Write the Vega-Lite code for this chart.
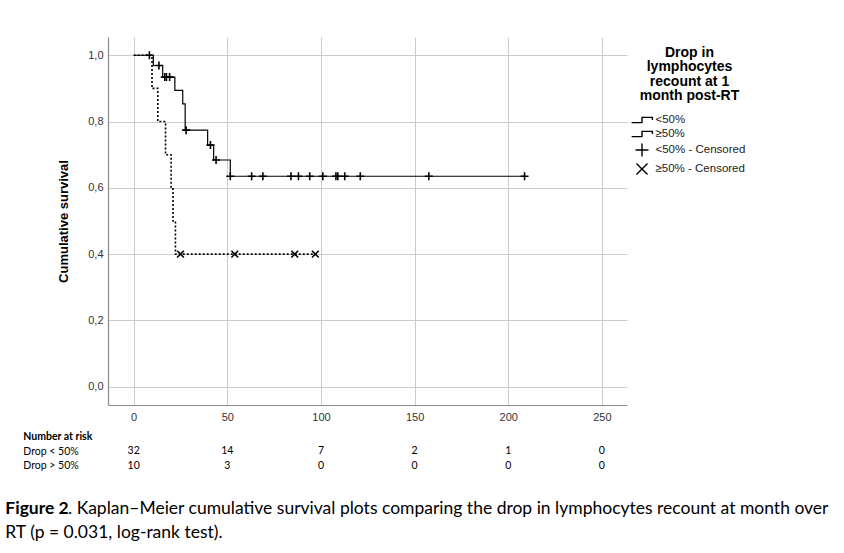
{
  "$schema": "https://vega.github.io/schema/vega-lite/v6.json",
  "padding": {"left": 5, "top": 37, "right": 5, "bottom": 5},
  "config": {
    "font": "Liberation Sans",
    "view": {"stroke": null}
  },
  "title": {
    "text": "Figure 2",
    "subtitle": ["\u200b\u00a0\u00a0\u00a0\u00a0\u00a0\u00a0\u00a0\u00a0\u00a0\u00a0\u00a0\u00a0\u00a0\u00a0. Kaplan–Meier cumulative survival plots comparing the drop in lymphocytes recount at month over", "RT (p = 0.031, log-rank test)."],
    "orient": "bottom",
    "anchor": "start",
    "frame": "bounds",
    "dx": -17.5,
    "offset": 27,
    "font": "Lato",
    "fontSize": 17.5,
    "fontWeight": "bold",
    "color": "#000000",
    "subtitleFont": "Lato",
    "subtitleFontSize": 17.5,
    "subtitleFontWeight": "normal",
    "subtitleColor": "#000000",
    "subtitleLineHeight": 24,
    "subtitlePadding": -17.5
  },
  "datasets": {
    "curves": [
      {"group": "<50%", "time": 0, "survival": 1.0},
      {"group": "<50%", "time": 10.5, "survival": 0.969},
      {"group": "<50%", "time": 15.5, "survival": 0.934},
      {"group": "<50%", "time": 22, "survival": 0.894},
      {"group": "<50%", "time": 26.2, "survival": 0.853},
      {"group": "<50%", "time": 27.5, "survival": 0.774},
      {"group": "<50%", "time": 39.5, "survival": 0.729},
      {"group": "<50%", "time": 42.7, "survival": 0.684},
      {"group": "<50%", "time": 51.6, "survival": 0.635},
      {"group": "<50%", "time": 208.7, "survival": 0.635},
      {"group": "≥50%", "time": 0, "survival": 1.0},
      {"group": "≥50%", "time": 9.8, "survival": 0.9},
      {"group": "≥50%", "time": 12.9, "survival": 0.8},
      {"group": "≥50%", "time": 17, "survival": 0.7},
      {"group": "≥50%", "time": 20, "survival": 0.6},
      {"group": "≥50%", "time": 21, "survival": 0.5},
      {"group": "≥50%", "time": 22.3, "survival": 0.4},
      {"group": "≥50%", "time": 97, "survival": 0.4}
    ],
    "censored": [
      {"legend": "<50% - Censored", "time": 8.4, "survival": 1.0},
      {"legend": "<50% - Censored", "time": 13.5, "survival": 0.969},
      {"legend": "<50% - Censored", "time": 16.6, "survival": 0.934},
      {"legend": "<50% - Censored", "time": 17.5, "survival": 0.934},
      {"legend": "<50% - Censored", "time": 19.2, "survival": 0.934},
      {"legend": "<50% - Censored", "time": 28, "survival": 0.774},
      {"legend": "<50% - Censored", "time": 41, "survival": 0.729},
      {"legend": "<50% - Censored", "time": 44, "survival": 0.684},
      {"legend": "<50% - Censored", "time": 51.6, "survival": 0.635},
      {"legend": "<50% - Censored", "time": 63, "survival": 0.635},
      {"legend": "<50% - Censored", "time": 69, "survival": 0.635},
      {"legend": "<50% - Censored", "time": 84, "survival": 0.635},
      {"legend": "<50% - Censored", "time": 88, "survival": 0.635},
      {"legend": "<50% - Censored", "time": 94, "survival": 0.635},
      {"legend": "<50% - Censored", "time": 101, "survival": 0.635},
      {"legend": "<50% - Censored", "time": 108, "survival": 0.635},
      {"legend": "<50% - Censored", "time": 109, "survival": 0.635},
      {"legend": "<50% - Censored", "time": 112.7, "survival": 0.635},
      {"legend": "<50% - Censored", "time": 121, "survival": 0.635},
      {"legend": "<50% - Censored", "time": 157.6, "survival": 0.635},
      {"legend": "<50% - Censored", "time": 208.7, "survival": 0.635},
      {"legend": "≥50% - Censored", "time": 25, "survival": 0.4},
      {"legend": "≥50% - Censored", "time": 54, "survival": 0.4},
      {"legend": "≥50% - Censored", "time": 86, "survival": 0.4},
      {"legend": "≥50% - Censored", "time": 97, "survival": 0.4}
    ],
    "risk": [
      {"row": "Drop < 50%", "time": 0, "n": 32},
      {"row": "Drop < 50%", "time": 50, "n": 14},
      {"row": "Drop < 50%", "time": 100, "n": 7},
      {"row": "Drop < 50%", "time": 150, "n": 2},
      {"row": "Drop < 50%", "time": 200, "n": 1},
      {"row": "Drop < 50%", "time": 250, "n": 0},
      {"row": "Drop > 50%", "time": 0, "n": 10},
      {"row": "Drop > 50%", "time": 50, "n": 3},
      {"row": "Drop > 50%", "time": 100, "n": 0},
      {"row": "Drop > 50%", "time": 150, "n": 0},
      {"row": "Drop > 50%", "time": 200, "n": 0},
      {"row": "Drop > 50%", "time": 250, "n": 0}
    ]
  },
  "spacing": 7,
  "resolve": {"scale": {"x": "independent", "y": "independent"}},
  "vconcat": [
    {
      "width": 519,
      "height": 368,
      "layer": [
        {
          "data": {"name": "curves"},
          "mark": {"type": "line", "interpolate": "step-after", "color": "#000000"},
          "encoding": {
            "x": {
              "field": "time", "type": "quantitative",
              "scale": {"domain": [-13.7, 263.4], "nice": false, "zero": false},
              "axis": {
                "title": null, "values": [0, 50, 100, 150, 200, 250],
                "grid": true, "gridColor": "#cccccc", "gridWidth": 1,
                "ticks": false, "domainColor": "#8a8a8a", "domainWidth": 1.2,
                "labelFont": "Liberation Sans", "labelFontSize": 11, "labelColor": "#333333",
                "labelPadding": 6
              }
            },
            "y": {
              "field": "survival", "type": "quantitative",
              "scale": {"domain": [-0.055, 1.055], "nice": false, "zero": false},
              "axis": {
                "title": "Cumulative survival", "values": [0, 0.2, 0.4, 0.6, 0.8, 1.0],
                "labelExpr": "replace(format(datum.value, '.1f'), '.', ',')",
                "grid": true, "gridColor": "#cccccc", "gridWidth": 1,
                "ticks": false, "domainColor": "#8a8a8a", "domainWidth": 1.2,
                "labelFont": "Liberation Sans", "labelFontSize": 11, "labelColor": "#333333",
                "labelPadding": 5,
                "titleFont": "Liberation Sans", "titleFontSize": 13, "titleFontWeight": "bold",
                "titleColor": "#000000", "titlePadding": 17
              }
            },
            "strokeDash": {
              "field": "group", "type": "nominal",
              "scale": {"domain": ["<50%", "≥50%"], "range": [[1, 0], [2, 2]]},
              "legend": null
            },
            "strokeWidth": {
              "field": "group", "type": "nominal",
              "scale": {"domain": ["<50%", "≥50%"], "range": [1.2, 1.6]},
              "legend": null
            }
          }
        },
        {
          "data": {"name": "censored"},
          "mark": {"type": "point", "filled": false, "stroke": "#000000", "strokeWidth": 1.6, "size": 64, "opacity": 1},
          "encoding": {
            "x": {"field": "time", "type": "quantitative"},
            "y": {"field": "survival", "type": "quantitative"},
            "shape": {
              "field": "legend", "type": "nominal",
              "scale": {
                "domain": ["<50%", "≥50%", "<50% - Censored", "≥50% - Censored"],
                "range": ["M-1.6,0.4L0,0.4L0,-0.4L1.6,-0.4L1.6,0", "M-1.6,0.4L0,0.4L0,-0.4L1.6,-0.4L1.6,0", "M-1,0L1,0M0,-1L0,1", "M-0.85,-0.85L0.85,0.85M-0.85,0.85L0.85,-0.85"]
              },
              "legend": {
                "title": ["Drop in", "lymphocytes", "recount at 1", "month post-RT"],
                "titleFont": "Liberation Sans", "titleFontSize": 14, "titleFontWeight": "bold",
                "titleColor": "#000000", "titleLineHeight": 14.5,
                "titleAnchor": "middle", "titleAlign": "center", "titlePadding": 9.5,
                "titleLimit": 300,
                "labelFont": "Liberation Sans", "labelFontSize": 11.5, "labelColor": "#222222",
                "labelOffset": 6, "labelLimit": 300,
                "symbolSize": 169, "symbolStrokeColor": "#000000", "symbolFillColor": "transparent",
                "symbolStrokeWidth": 1.4,
                "rowPadding": 1,
                "padding": 8.5, "offset": -1.2,
                "encode": {"symbols": {"size": {"value": 169}}}
              }
            }
          }
        }
      ]
    },
    {
      "width": 519,
      "height": 44.2,
      "data": {"name": "risk"},
      "mark": {"type": "text", "font": "Lato", "fontSize": 10.5, "color": "#000000"},
      "encoding": {
        "x": {
          "field": "time", "type": "quantitative",
          "scale": {"domain": [-13.7, 263.4], "nice": false, "zero": false},
          "axis": null
        },
        "y": {
          "field": "row", "type": "nominal",
          "scale": {"domain": ["Number at risk", "Drop < 50%", "Drop > 50%"], "paddingInner": 0, "paddingOuter": 0},
          "axis": {
            "title": null, "domain": false, "ticks": false, "tickSize": 0, "grid": false,
            "labelAlign": "left", "labelPadding": 85.2,
            "labelFont": "Lato", "labelFontSize": 10.5, "labelColor": "#000000",
            "labelFontWeight": {"condition": {"test": "datum.value === 'Number at risk'", "value": "bold"}, "value": "normal"}
          }
        },
        "text": {"field": "n", "type": "quantitative"}
      }
    }
  ]
}
